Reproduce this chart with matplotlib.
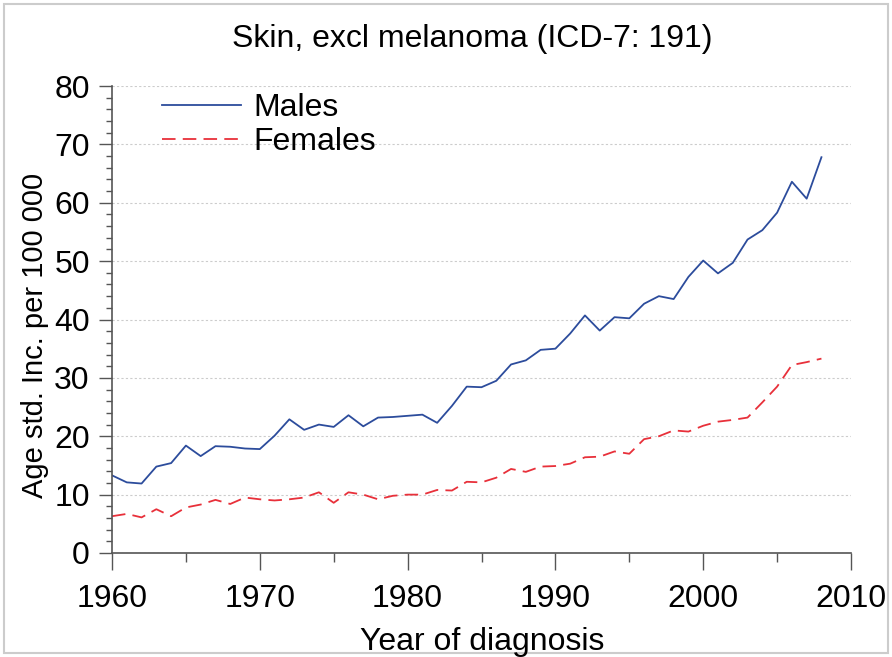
import matplotlib
matplotlib.use("Agg")
import matplotlib.pyplot as plt
from matplotlib.ticker import MultipleLocator
from matplotlib.patches import Rectangle

years = list(range(1960, 2009))
males = [13.3, 12.1, 11.9, 14.8, 15.4, 18.4, 16.6, 18.3, 18.2, 17.9,
         17.8, 20.1, 22.9, 21.1, 22.0, 21.6, 23.6, 21.7, 23.2, 23.3,
         23.5, 23.7, 22.3, 25.2, 28.5, 28.4, 29.5, 32.3, 33.0, 34.8,
         35.0, 37.6, 40.7, 38.1, 40.4, 40.2, 42.7, 44.0, 43.5, 47.3,
         50.1, 47.9, 49.7, 53.7, 55.3, 58.3, 63.6, 60.7, 67.8]
females = [6.3, 6.7, 6.1, 7.5, 6.3, 7.8, 8.3, 9.1, 8.4, 9.5,
           9.2, 9.0, 9.2, 9.5, 10.4, 8.6, 10.4, 10.0, 9.2, 9.8,
           10.0, 10.0, 10.8, 10.7, 12.2, 12.1, 12.9, 14.4, 13.9, 14.8,
           14.9, 15.3, 16.4, 16.5, 17.4, 17.0, 19.5, 20.0, 21.0, 20.8,
           21.8, 22.5, 22.8, 23.2, 25.8, 28.5, 32.2, 32.7, 33.3]

title = "Skin, excl melanoma (ICD-7: 191)"
xlabel = "Year of diagnosis"
ylabel = "Age std. Inc. per 100 000"

plt.rcParams['font.family'] = ['Liberation Sans', 'DejaVu Sans']

W, H = 892, 657
fig = plt.figure(figsize=(W / 100, H / 100), dpi=100)
fig.patches.append(Rectangle((4 / W, 4 / H), (W - 8) / W, (H - 8) / H, transform=fig.transFigure,
                             fill=False, edgecolor='#cccccc', linewidth=1.5))
ax = fig.add_axes([112 / W, (H - 553) / H, 739 / W, 467 / H])

ax.plot(years, males, color='#2c4c9c', lw=1.3, label='Males')
ax.plot(years, females, color='#e8303a', lw=1.3, ls=(0, (7.5, 4)), label='Females')

ax.set_xlim(1960, 2010)
ax.set_ylim(0, 80)
ax.xaxis.set_major_locator(MultipleLocator(10))
ax.xaxis.set_minor_locator(MultipleLocator(5))
ax.yaxis.set_major_locator(MultipleLocator(10))
ax.yaxis.set_minor_locator(MultipleLocator(2))
ax.grid(axis='y', which='major', color='#cccccc', ls=(0, (2, 2)), lw=0.8)
ax.set_axisbelow(True)

for s in ['top', 'right']:
    ax.spines[s].set_visible(False)
for s in ['left', 'bottom']:
    ax.spines[s].set_color('#555555')
    ax.spines[s].set_linewidth(1.2)

ax.tick_params(axis='both', which='both', width=1.0, color='#555555',
               labelsize=23, direction='out')
ax.tick_params(axis='x', which='major', length=12, pad=10.5)
ax.tick_params(axis='x', which='minor', length=6.5)
ax.tick_params(axis='y', which='major', length=9.5, pad=6.5)
ax.tick_params(axis='y', which='minor', length=4)

fig.text(472 / W, 1 - 47 / H, title, ha='center', va='baseline', fontsize=23)
fig.text(482.5 / W, 1 - 650 / H, xlabel, ha='center', va='baseline', fontsize=23)
fig.text(43 / W, 1 - 335.5 / H, ylabel, ha='center', va='baseline', fontsize=21,
         rotation=90, rotation_mode='anchor')

leg = ax.legend(loc='upper left', bbox_to_anchor=((162 - 112) / 739, (553 - 93) / 467),
                frameon=False, fontsize=23, handlelength=2.47, handletextpad=0.375,
                labelspacing=0.12, borderpad=0, borderaxespad=0)

fig.savefig('out.png', dpi=100)
